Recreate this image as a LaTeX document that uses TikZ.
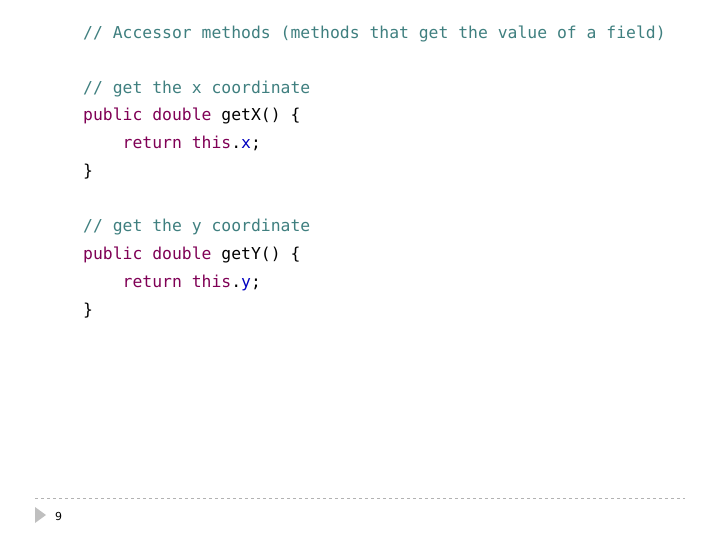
\documentclass[tikz,border=0pt]{standalone}
\usepackage{fontspec}
\setmonofont{DejaVu Sans Mono}
\setmainfont{DejaVu Sans}
\definecolor{cmt}{RGB}{63,127,127}
\definecolor{kw}{RGB}{127,0,85}
\definecolor{fld}{RGB}{0,0,192}
\begin{document}
\begin{tikzpicture}[x=1pt,y=-1pt,
  code/.style={anchor=base west,inner sep=0,font=\fontsize{16.4}{18}\ttfamily}]
\useasboundingbox (0,0) rectangle (720,540);
\node[code] (l1) at (83,39) {\color{cmt}// Accessor methods (methods that get the value of a field)};
\node[code] (l2) at (83,94) {\color{cmt}// get the x coordinate};
\node[code] (l3) at (83,121) {\color{kw}public double \color{black}getX() \{};
\node[code] (l4) at (83,149) {\phantom{xxxx}\color{kw}return this\color{black}.\color{fld}x\color{black};};
\node[code] (l5) at (83,177) {\}};
\node[code] (l6) at (83,232) {\color{cmt}// get the y coordinate};
\node[code] (l7) at (83,259) {\color{kw}public double \color{black}getY() \{};
\node[code] (l8) at (83,287) {\phantom{xxxx}\color{kw}return this\color{black}.\color{fld}y\color{black};};
\node[code] (l9) at (83,315) {\}};
\draw[gray!60,dashed,line width=0.8pt] (35,498) -- (685,498);
\fill[gray!50] (35,507) -- (46,515) -- (35,523) -- cycle;
\node[anchor=base west,inner sep=0,font=\fontsize{11}{12}\selectfont] (pg) at (55,520) {9};
\end{tikzpicture}
\end{document}
